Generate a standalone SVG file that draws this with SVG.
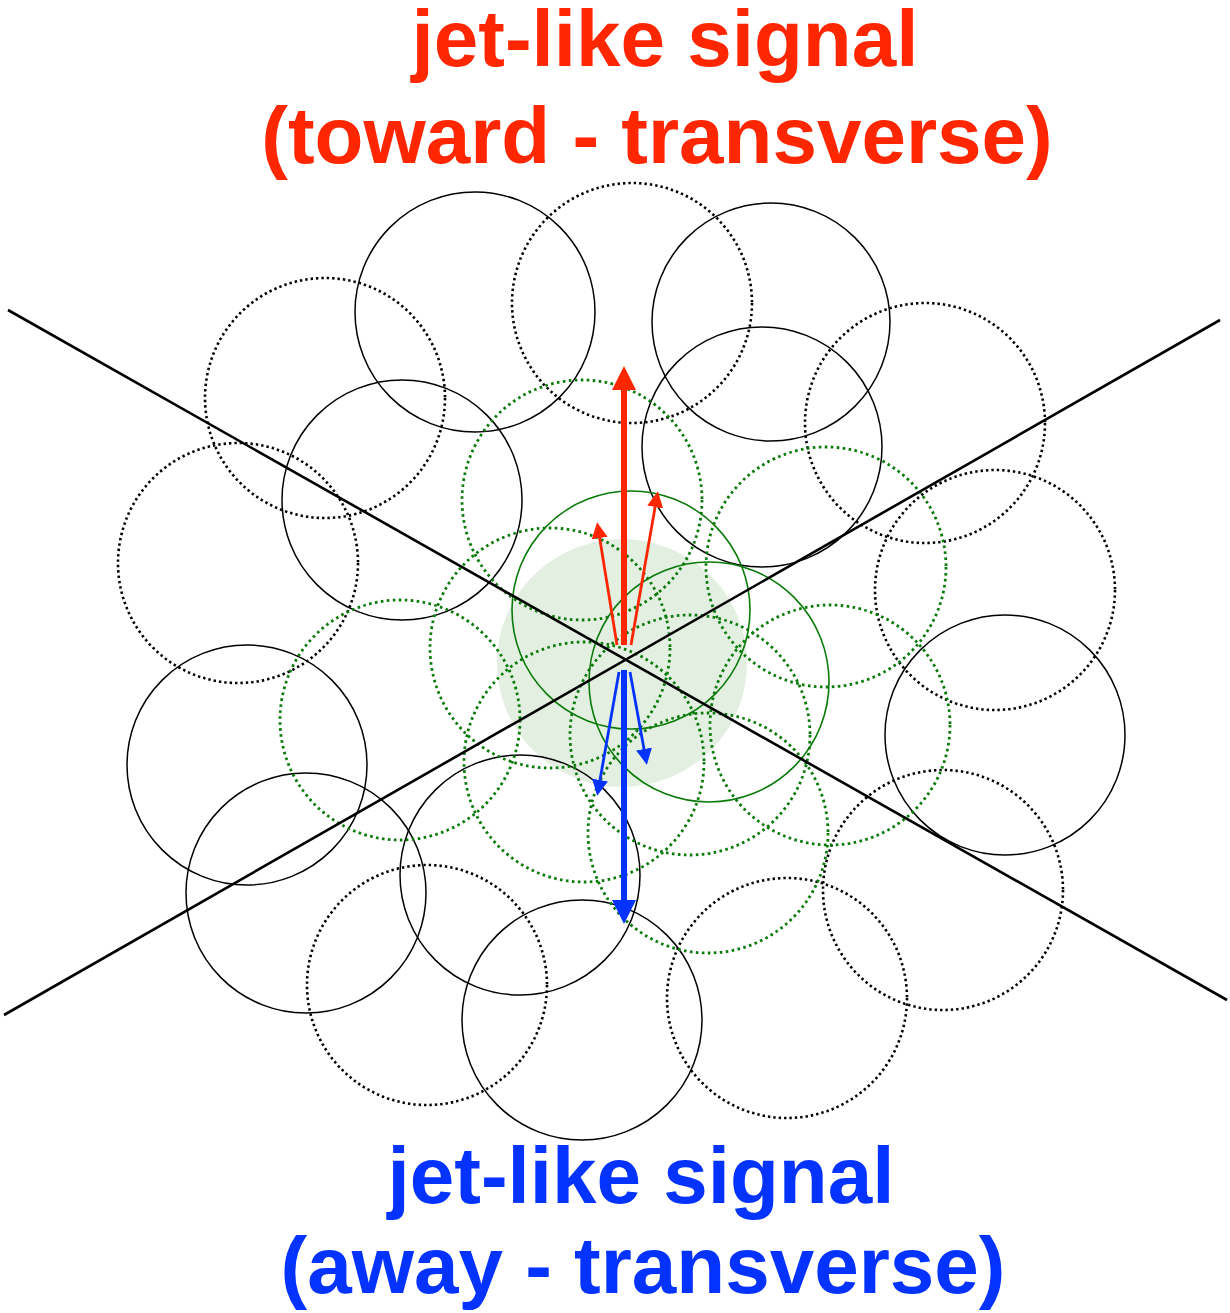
<svg xmlns="http://www.w3.org/2000/svg" width="1230" height="1313" viewBox="0 0 1230 1313">
  <style>
    .bs { fill: none; stroke: #000; stroke-width: 1.5; }
    .bd { fill: none; stroke: #000; stroke-width: 2.6; stroke-dasharray: 2.4 3; }
    .gs { fill: none; stroke: #0a7a0a; stroke-width: 1.6; }
    .gd { fill: none; stroke: #0a7a0a; stroke-width: 2.8; stroke-dasharray: 2.6 3.4; }
    .axis { stroke: #000; stroke-width: 2.6; fill: none; }
    .title { font-family: "Liberation Sans", Arial, Helvetica, sans-serif; font-weight: bold; font-size: 80px; text-anchor: middle; }
    .red { fill: #ff2600; }
    .blue { fill: #0433ff; }
  </style>
  <defs>
    <marker id="hrBig" markerUnits="userSpaceOnUse" viewBox="0 -12 24 24" markerWidth="24" markerHeight="24" refX="1" refY="0" orient="auto">
      <path d="M0,-12 L24,0 L0,12 z" fill="#ff2600"/>
    </marker>
    <marker id="hrSmall" markerUnits="userSpaceOnUse" viewBox="0 -8 16 16" markerWidth="16" markerHeight="16" refX="1" refY="0" orient="auto">
      <path d="M0,-8 L16,0 L0,8 z" fill="#ff2600"/>
    </marker>
    <marker id="hbBig" markerUnits="userSpaceOnUse" viewBox="0 -12 24 24" markerWidth="24" markerHeight="24" refX="1" refY="0" orient="auto">
      <path d="M0,-12 L24,0 L0,12 z" fill="#0433ff"/>
    </marker>
    <marker id="hbSmall" markerUnits="userSpaceOnUse" viewBox="0 -8 16 16" markerWidth="16" markerHeight="16" refX="1" refY="0" orient="auto">
      <path d="M0,-8 L16,0 L0,8 z" fill="#0433ff"/>
    </marker>
  </defs>

  <rect width="1230" height="1313" fill="#fff"/>

  <g id="core-blob">
    <ellipse cx="622" cy="663" rx="125" ry="124" fill="#e3efe0"/>
  </g>

  <g id="black-solid-circles">
    <circle class="bs" cx="475" cy="312" r="120"/>
    <circle class="bs" cx="771" cy="322" r="119"/>
    <circle class="bs" cx="402" cy="500" r="120"/>
    <circle class="bs" cx="762" cy="447" r="120"/>
    <circle class="bs" cx="1005" cy="735" r="120"/>
    <circle class="bs" cx="247" cy="765" r="120"/>
    <circle class="bs" cx="306" cy="893" r="120"/>
    <circle class="bs" cx="520" cy="875" r="120"/>
    <circle class="bs" cx="582" cy="1020" r="120"/>
  </g>

  <g id="black-dotted-circles">
    <circle class="bd" cx="632" cy="303" r="120"/>
    <circle class="bd" cx="325" cy="398" r="120"/>
    <circle class="bd" cx="925" cy="423" r="120"/>
    <circle class="bd" cx="238" cy="563" r="120"/>
    <circle class="bd" cx="995" cy="590" r="120"/>
    <circle class="bd" cx="943" cy="890" r="120"/>
    <circle class="bd" cx="427" cy="985" r="120"/>
    <circle class="bd" cx="787" cy="998" r="120"/>
  </g>

  <g id="green-dotted-circles">
    <circle class="gd" cx="582" cy="500" r="120"/>
    <circle class="gd" cx="826" cy="567" r="120"/>
    <circle class="gd" cx="550" cy="648" r="120"/>
    <circle class="gd" cx="400" cy="720" r="120"/>
    <circle class="gd" cx="830" cy="725" r="120"/>
    <circle class="gd" cx="690" cy="735" r="120"/>
    <circle class="gd" cx="584" cy="762" r="120"/>
    <circle class="gd" cx="708" cy="833" r="120"/>
  </g>

  <g id="green-solid-circles">
    <circle class="gs" cx="631" cy="610" r="119"/>
    <circle class="gs" cx="709" cy="682" r="120"/>
  </g>

  <g id="axes">
    <line class="axis" x1="8" y1="310" x2="1227" y2="1000"/>
    <line class="axis" x1="4" y1="1015" x2="1220" y2="320"/>
  </g>

  <g id="connectors">
    <line x1="624" y1="645" x2="624" y2="389" stroke="#ff2600" stroke-width="6" marker-end="url(#hrBig)"/>
    <line x1="617" y1="645" x2="599.5" y2="537" stroke="#ff2600" stroke-width="2.8" marker-end="url(#hrSmall)"/>
    <line x1="631" y1="645" x2="655.3" y2="506" stroke="#ff2600" stroke-width="2.8" marker-end="url(#hrSmall)"/>
    <line x1="624" y1="670" x2="624" y2="901" stroke="#0433ff" stroke-width="6" marker-end="url(#hbBig)"/>
    <line x1="619" y1="672" x2="599.8" y2="781" stroke="#0433ff" stroke-width="2.8" marker-end="url(#hbSmall)"/>
    <line x1="630" y1="672" x2="644.2" y2="750" stroke="#0433ff" stroke-width="2.8" marker-end="url(#hbSmall)"/>
  </g>

  <g id="label-toward">
    <text class="title red" x="665" y="66">jet-like signal</text>
    <text class="title red" x="657" y="163">(toward - transverse)</text>
  </g>
  <g id="label-away">
    <text class="title blue" x="641" y="1203">jet-like signal</text>
    <text class="title blue" x="643" y="1293">(away - transverse)</text>
  </g>
</svg>
